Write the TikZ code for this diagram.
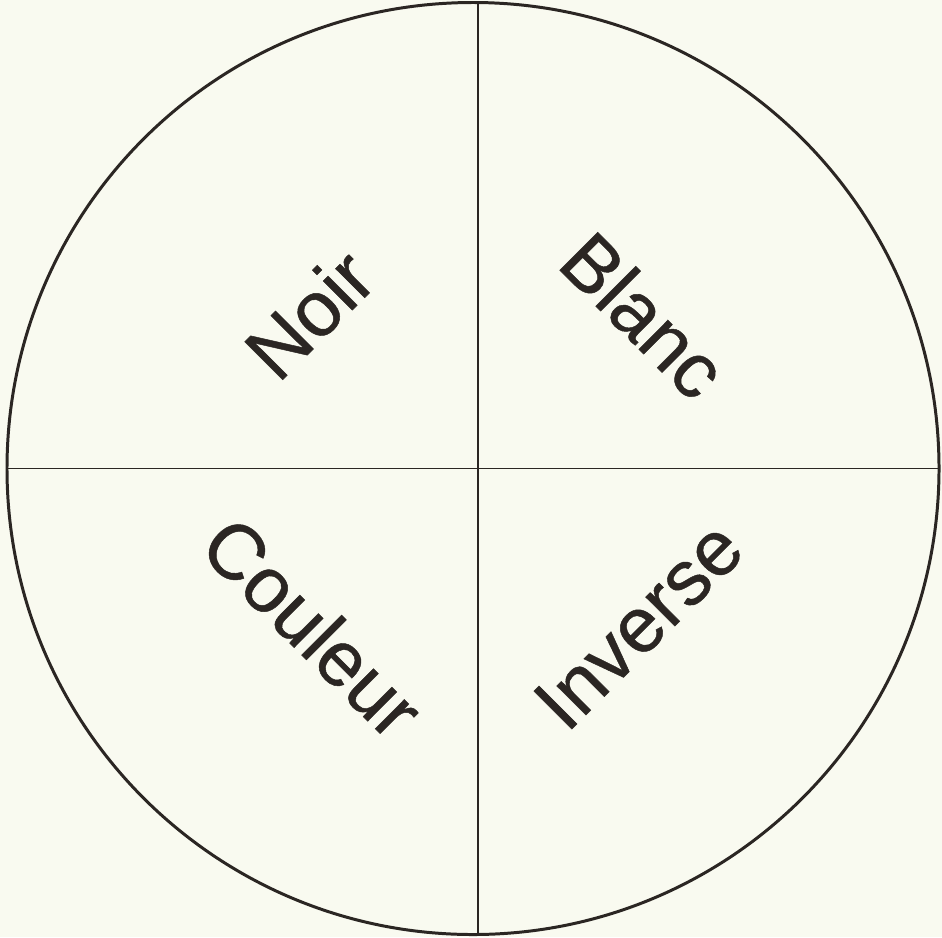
\documentclass[tikz,border=0pt]{standalone}
\usepackage{fontspec}
\setmainfont{Liberation Sans}
\newfontfamily\lblfont[FakeBold=0.6]{Liberation Sans}
\usepackage{tikz}
\usetikzlibrary{positioning}
\definecolor{paper}{HTML}{F9FAF0}
\definecolor{ink}{HTML}{2B2623}
\tikzset{
  disc/.style={circle,draw=ink,line width=0.85pt,minimum size=9.32cm,inner sep=0pt,outer sep=0pt},
  divline/.style={draw=ink,line width=0.5pt},
  quadlbl/.style={text=ink,inner sep=0pt,font=\lblfont\fontsize{22.2}{26}\selectfont},
}
\begin{document}
\begin{tikzpicture}
  \fill[paper] (0,0) rectangle (9.42,9.37);
  \node[disc] (nDisc) at (4.73,4.685) {};
  \coordinate (cTop) at (4.78,9.345);
  \coordinate (cBot) at (4.78,0.025);
  \coordinate (cLeft) at (0.07,4.685);
  \coordinate (cRight) at (9.39,4.685);
  \draw[divline] (cTop) -- (cBot);
  \draw[divline] (cLeft) -- (cRight);
  \node[quadlbl,rotate=45] (nNoir) at (3.09,6.23) {Noir};
  \node[quadlbl,rotate=-45] (nBlanc) at (6.44,6.22) {Blanc};
  \node[quadlbl,rotate=-45] (nCouleur) at (3.13,3.10) {Couleur};
  \node[quadlbl,rotate=45] (nInverse) at (6.385,3.12) {Inverse};
\end{tikzpicture}
\end{document}
